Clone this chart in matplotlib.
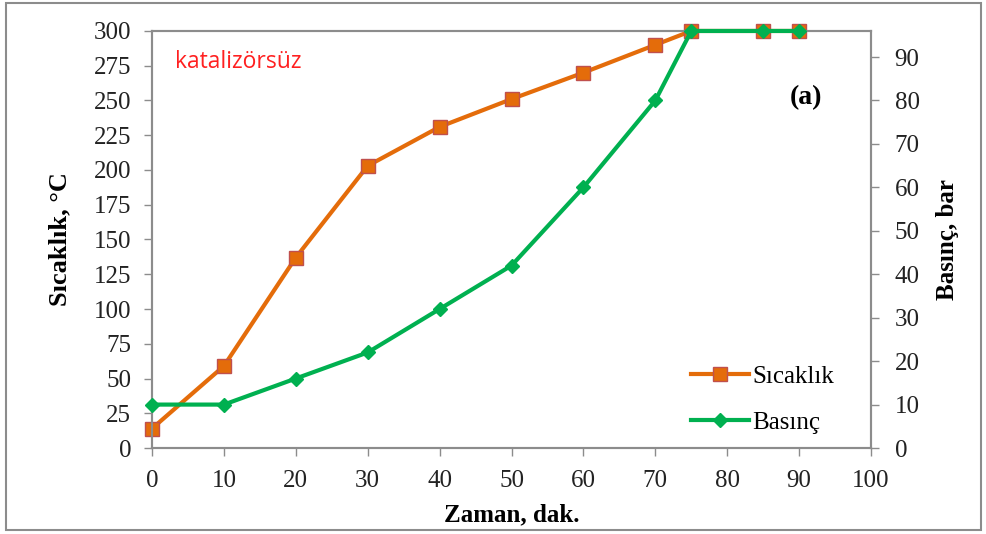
import matplotlib.pyplot as plt
from matplotlib.patches import Rectangle

# ------------------------
# Data
# ------------------------
zaman = [0, 10, 20, 30, 40, 50, 60, 70, 75, 85, 90]
sicaklik = [14, 59, 137, 203, 231, 251, 270, 290, 300, 300, 300]
basinc = [10, 10, 16, 22, 32, 42, 60, 80, 96, 96, 96]

x_ticks = list(range(0, 101, 10))
y1_ticks = list(range(0, 301, 25))
y2_ticks = list(range(0, 91, 10))

orange = "#E46C0A"
green = "#00B050"
gray = "#8C8C8C"

plt.rcParams['font.family'] = ['Liberation Serif', 'DejaVu Serif']

fig = plt.figure(figsize=(9.87, 5.34), dpi=100)
ax = fig.add_axes([0.154, 0.161, 0.7285, 0.781])
ax2 = ax.twinx()

l1, = ax.plot(zaman, sicaklik, color=orange, lw=3, marker='s', markersize=10,
              markerfacecolor=orange, markeredgecolor="#C0504D", markeredgewidth=1,
              label="Sıcaklık", clip_on=False, zorder=3)
l2, = ax2.plot(zaman, basinc, color=green, lw=3, marker='D', markersize=7,
               markerfacecolor=green, markeredgecolor=green,
               label="Basınç", clip_on=False, zorder=4)

ax.set_xlim(0, 100)
ax.set_ylim(0, 300)
ax2.set_ylim(0, 96)
ax.set_xticks(x_ticks)
ax.set_yticks(y1_ticks)
ax2.set_yticks(y2_ticks)

for a in (ax, ax2):
    for s in a.spines.values():
        s.set_color(gray)
        s.set_linewidth(1.5)
    a.tick_params(colors=gray, labelcolor="#222222", labelsize=18, length=6, width=1)
ax.tick_params(axis='x', pad=10)
ax.tick_params(axis='y', pad=9)
ax2.tick_params(axis='y', pad=11)

ax.set_xlabel("Zaman, dak.", fontsize=18, fontweight='bold', labelpad=8)
ax.set_ylabel("Sıcaklık, °C", fontsize=19, fontweight='bold', labelpad=16)
ax2.set_ylabel("Basınç, bar", fontsize=18, fontweight='bold', labelpad=12)

ax.text(0.032, 0.925, "katalizörsüz", transform=ax.transAxes, color="#FF2020",
        fontsize=16.5, family='Open Sans', va='center')
ax.text(0.91, 0.84, "(a)", transform=ax.transAxes, fontsize=20,
        fontweight='bold', ha='center', va='center')

ax2.legend([l1, l2], ["Sıcaklık", "Basınç"], loc='lower right',
           bbox_to_anchor=(0.98, -0.02), frameon=False, fontsize=18,
           handlelength=2.3, handletextpad=0.15, labelspacing=0.95)

ax2.set_zorder(ax.get_zorder() + 1)
ax2.patch.set_visible(False)

# border round the whole figure
fig.patches.append(Rectangle((0.006, 0.007), 0.988, 0.988, transform=fig.transFigure,
                             fill=False, edgecolor=gray, lw=1.5))

plt.savefig("out.png", dpi=100)
